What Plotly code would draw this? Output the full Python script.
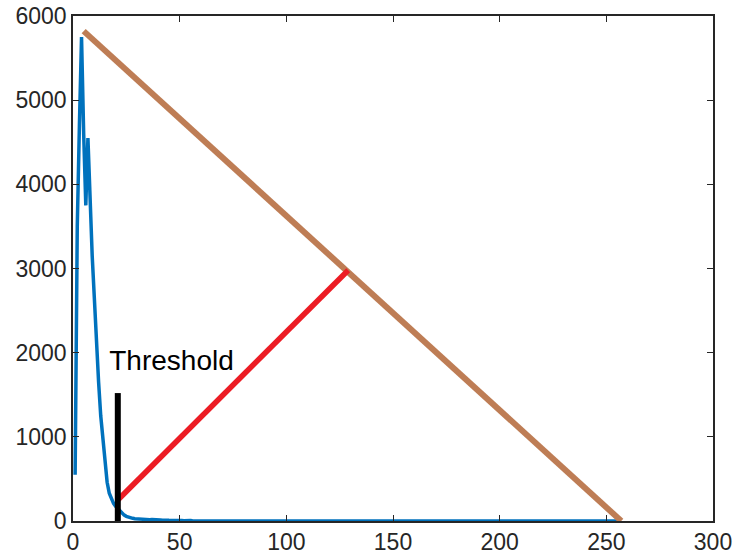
import plotly.graph_objects as go

# Histogram counts (bin index 1..60), zero afterwards up to 256
hist_counts = [550, 3500, 4700, 5750, 4600, 3750, 4550, 3700, 3150, 2650,
               2100, 1650, 1250, 950, 680, 460, 330, 260, 210, 175,
               145, 115, 90, 70, 55, 45, 38, 32, 28, 25,
               22, 20, 18, 20, 16, 15, 18, 14, 12, 15,
               12, 10, 13, 9, 8, 11, 7, 6, 9, 5,
               6, 4, 7, 3, 5, 3, 4, 2, 3, 2]
hist_x = list(range(1, 257))
hist_y = hist_counts + [0] * (256 - len(hist_counts))

# Triangle-method lines
diag_x = [5, 257]
diag_y = [5820, 0]
perp_x = [21, 129]
perp_y = [250, 2980]
thr_x = [21, 21]
thr_y = [0, 1520]
label_x = [17]
label_y = [1880]
label_text = ["Threshold"]

xticks = [0, 50, 100, 150, 200, 250, 300]
yticks = [0, 1000, 2000, 3000, 4000, 5000, 6000]

fig = go.Figure()
fig.add_trace(go.Scatter(x=hist_x, y=hist_y, mode="lines",
                         line=dict(color="#0072BD", width=3.5)))
fig.add_trace(go.Scatter(x=diag_x, y=diag_y, mode="lines",
                         line=dict(color="#BE7D55", width=6)))
fig.add_trace(go.Scatter(x=perp_x, y=perp_y, mode="lines",
                         line=dict(color="#EC1C24", width=5.5)))
fig.add_trace(go.Scatter(x=thr_x, y=thr_y, mode="lines",
                         line=dict(color="#000000", width=6)))
fig.add_trace(go.Scatter(x=label_x, y=label_y, mode="text", text=label_text,
                         textposition="middle right",
                         textfont=dict(family="Liberation Sans, Arial", size=28, color="#000000")))

axis_common = dict(showgrid=False, zeroline=False, showline=True, linecolor="#262626",
                   linewidth=1.5, mirror="ticks", ticks="inside", ticklen=6,
                   tickcolor="#262626", automargin=False,
                   tickfont=dict(family="Liberation Sans, Arial", size=23, color="#262626"))

fig.update_layout(
    width=734, height=559,
    margin=dict(l=73, r=21, t=16, b=38),
    plot_bgcolor="white", paper_bgcolor="white",
    showlegend=False,
    xaxis=dict(range=[0, 300], tickvals=xticks, ticktext=[str(v) for v in xticks], **axis_common),
    yaxis=dict(range=[0, 6000], tickvals=yticks, ticktext=[str(v) for v in yticks], **axis_common),
)
fig.write_html("out.html")
